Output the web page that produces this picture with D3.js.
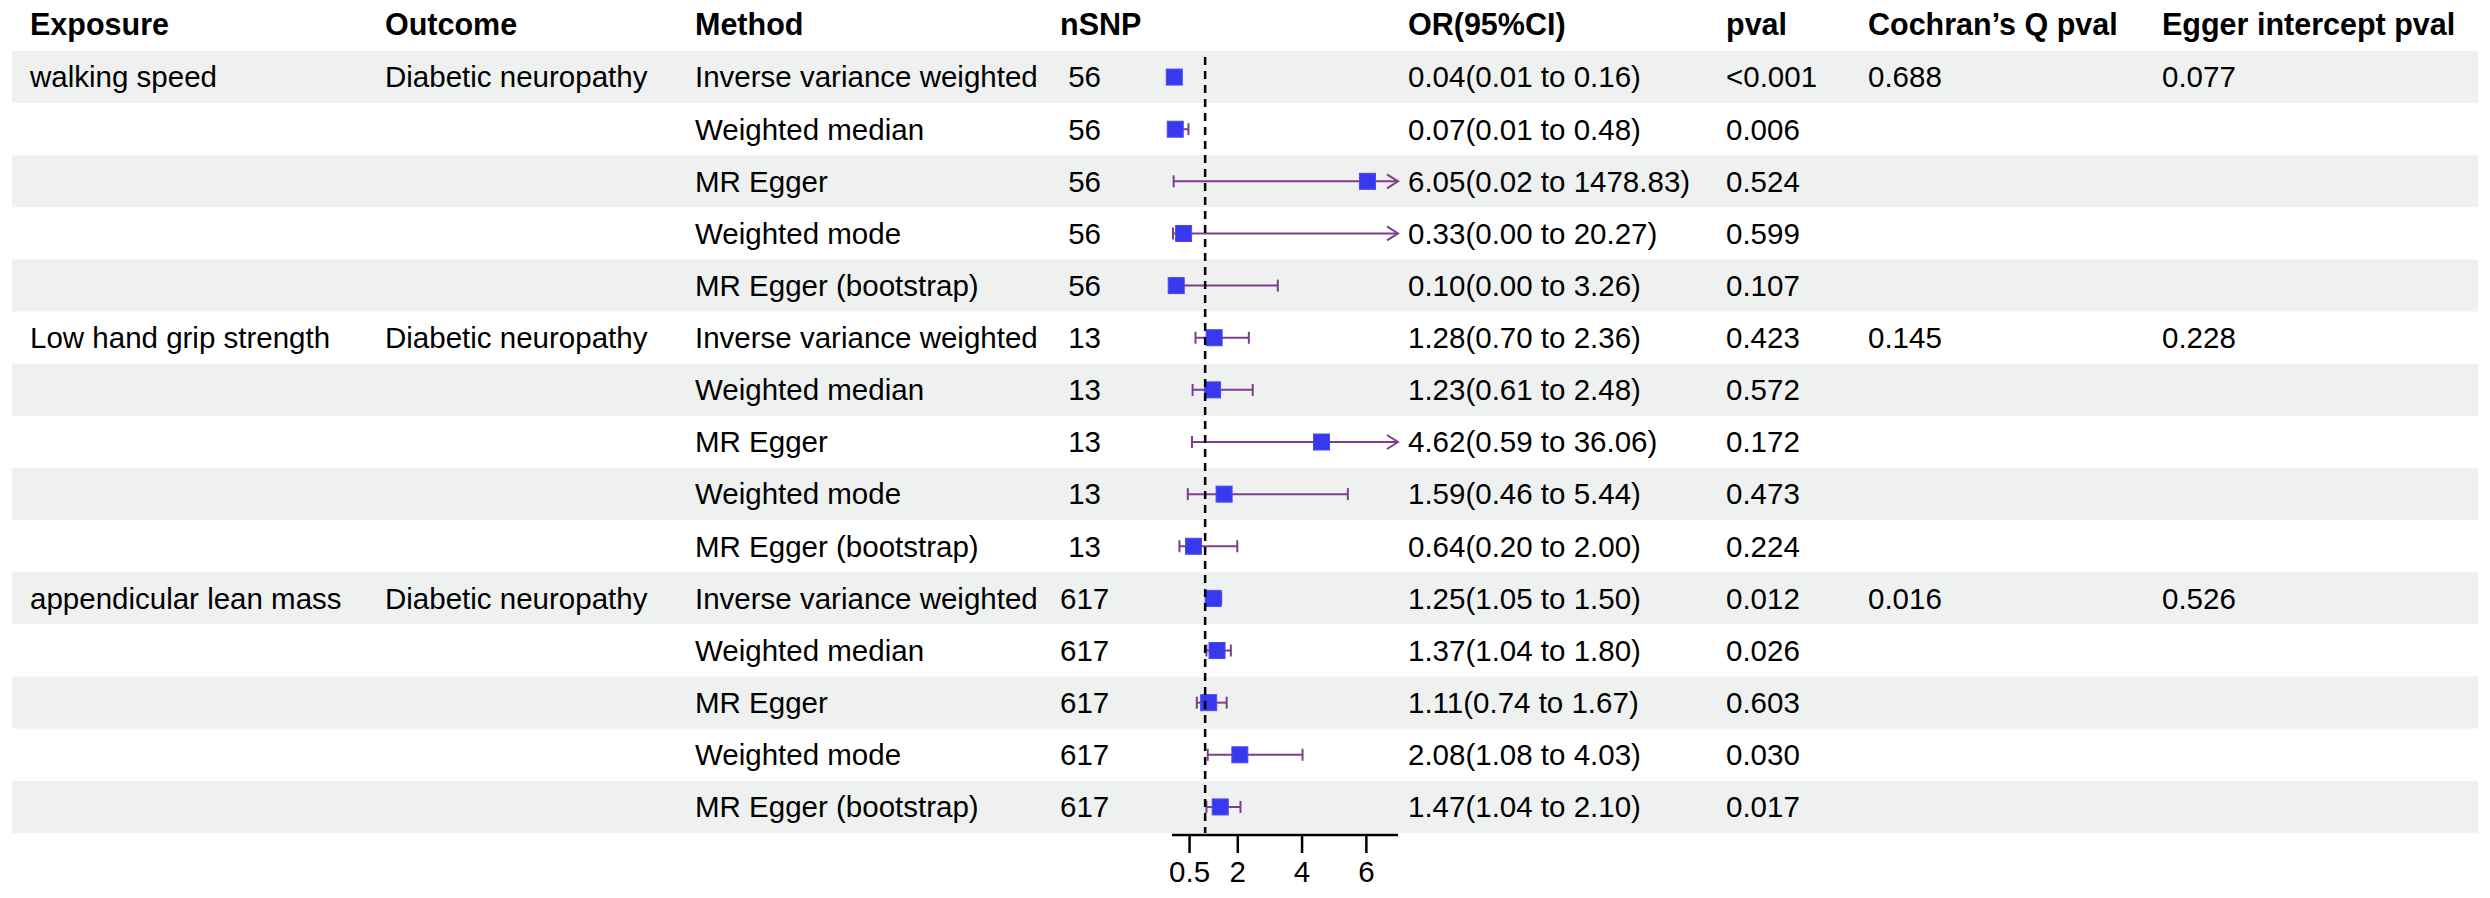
<!DOCTYPE html>
<html>
<head>
<meta charset="utf-8">
<script src="https://cdn.jsdelivr.net/npm/d3@7"></script>
<style>
  html, body { margin: 0; padding: 0; background: #fff; }
  svg { display: block; font-family: "Liberation Sans", Arial, sans-serif; }
</style>
</head>
<body>
<div id="chart"></div>
<script>
// MR forest plot: sarcopenia traits -> diabetic neuropathy

var W = 2490, H = 898;

var exposures = ['walking speed', 'Low hand grip strength', 'appendicular lean mass'];
var outcome = 'Diabetic neuropathy';
var methods = ['Inverse variance weighted', 'Weighted median', 'MR Egger', 'Weighted mode', 'MR Egger (bootstrap)'];
var nsnp = [56, 13, 617];

// odds ratios and 95% CI, 5 methods per exposure
var orVals = [0.04, 0.07, 6.05, 0.33, 0.10,
              1.28, 1.23, 4.62, 1.59, 0.64,
              1.25, 1.37, 1.11, 2.08, 1.47];
var ciLow  = [0.01, 0.01, 0.02, 0.00, 0.00,
              0.70, 0.61, 0.59, 0.46, 0.20,
              1.05, 1.04, 0.74, 1.08, 1.04];
var ciHigh = [0.16, 0.48, 1478.83, 20.27, 3.26,
              2.36, 2.48, 36.06, 5.44, 2.00,
              1.50, 1.80, 1.67, 4.03, 2.10];
var pvals = ['<0.001', '0.006', '0.524', '0.599', '0.107',
             '0.423', '0.572', '0.172', '0.473', '0.224',
             '0.012', '0.026', '0.603', '0.030', '0.017'];
var cochranQ = ['0.688', '0.145', '0.016'];
var eggerInt = ['0.077', '0.228', '0.526'];
var xTicks = [0.5, 2, 4, 6];

var headers = ['Exposure', 'Outcome', 'Method', 'nSNP', 'OR(95%CI)', 'pval', 'Cochran\u2019s Q pval', 'Egger intercept pval'];
var colX = [30, 385, 695, 1060, 1408, 1726, 1868, 2162];

var rows = [];
orVals.forEach(function(v, i) {
  var g = Math.floor(i / 5), m = i % 5;
  rows.push({
    exposure: m === 0 ? exposures[g] : '',
    outcome: m === 0 ? outcome : '',
    method: methods[m],
    n: String(nsnp[g]).padStart(3, ' '),
    or: v, lo: ciLow[i], hi: ciHigh[i],
    label: v.toFixed(2) + '(' + ciLow[i].toFixed(2) + ' to ' + ciHigh[i].toFixed(2) + ')',
    p: pvals[i],
    q: m === 0 ? cochranQ[g] : '',
    egger: m === 0 ? eggerInt[g] : ''
  });
});

var svg = d3.select('#chart').append('svg')
  .attr('width', W)
  .attr('height', H);

var y = d3.scaleBand()
  .domain(d3.range(rows.length))
  .range([51, 833])
  .paddingInner(0);

var x = d3.scaleLinear()
  .domain([0, 7])
  .range([1173, 1398]);

// zebra stripes
svg.selectAll('rect.stripe')
    .data(rows)
  .enter().append('rect')
    .attr('class', 'stripe')
    .attr('x', 12)
    .attr('y', function(d, i) { return y(i); })
    .attr('width', 2478 - 12)
    .attr('height', y.bandwidth())
    .attr('fill', function(d, i) { return i % 2 === 0 ? '#eff1f0' : '#ffffff'; });

// header
svg.selectAll('text.head')
    .data(headers)
  .enter().append('text')
    .attr('class', 'head')
    .attr('x', function(d, i) { return colX[i]; })
    .attr('y', 35)
    .attr('font-size', 30.5)
    .attr('font-weight', 'bold')
    .attr('fill', '#000')
    .text(function(d) { return d; });

// table cells
var keys = ['exposure', 'outcome', 'method', 'n', 'label', 'p', 'q', 'egger'];
var rowG = svg.selectAll('g.row')
    .data(rows)
  .enter().append('g')
    .attr('class', 'row')
    .attr('transform', function(d, i) { return 'translate(0,' + (y(i) + y.bandwidth() / 2) + ')'; });

keys.forEach(function(k, j) {
  rowG.append('text')
    .attr('x', colX[j])
    .attr('dy', '0.35em')
    .attr('font-size', 29.5)
    .attr('fill', '#000')
    .style('white-space', 'pre')
    .text(function(d) { return d[k]; });
});

// reference line at OR = 1
svg.append('line')
  .attr('x1', x(1)).attr('x2', x(1))
  .attr('y1', y(0) + 6).attr('y2', 833)
  .attr('stroke', '#000')
  .attr('stroke-width', 2.5)
  .attr('stroke-dasharray', '8,6');

// confidence intervals
var ciCol = '#7d3f8c';
var xMax = x.domain()[1];
rowG.append('line')
  .attr('x1', function(d) { return x(Math.max(d.lo, 0)); })
  .attr('x2', function(d) { return x(Math.min(d.hi, xMax)); })
  .attr('stroke', ciCol)
  .attr('stroke-width', 2);

rowG.append('line')
  .attr('x1', function(d) { return x(d.lo); })
  .attr('x2', function(d) { return x(d.lo); })
  .attr('y1', -6).attr('y2', 6)
  .attr('stroke', ciCol)
  .attr('stroke-width', 2);

rowG.append('path')
  .attr('d', function(d) {
    var e = x(Math.min(d.hi, xMax));
    if (d.hi > xMax) return 'M' + (e - 11) + ',-7L' + e + ',0L' + (e - 11) + ',7';
    return 'M' + e + ',-6L' + e + ',6';
  })
  .attr('fill', 'none')
  .attr('stroke', ciCol)
  .attr('stroke-width', 2);

// point estimates
var box = 16;
rowG.append('rect')
  .attr('x', function(d) { return x(d.or) - box / 2; })
  .attr('y', -box / 2)
  .attr('width', box)
  .attr('height', box)
  .attr('fill', '#3838ee')
  .attr('stroke', '#4a4af5')
  .attr('stroke-width', 1);

// x axis
var axis = svg.append('g')
  .attr('transform', 'translate(0,835)')
  .call(d3.axisBottom(x).tickValues(xTicks).tickSize(18).tickPadding(8)
    .tickFormat(function(d) { return String(d); }));

axis.select('.domain')
  .attr('d', 'M' + (x(0) - 1) + ',0H' + x(7))
  .attr('stroke', '#000')
  .attr('stroke-width', 2.5);
axis.selectAll('.tick line').attr('stroke', '#000').attr('stroke-width', 2.5);
axis.selectAll('.tick text')
  .attr('font-size', 29.5)
  .attr('font-family', '"Liberation Sans", Arial, sans-serif')
  .attr('fill', '#000');
</script>
</body>
</html>
